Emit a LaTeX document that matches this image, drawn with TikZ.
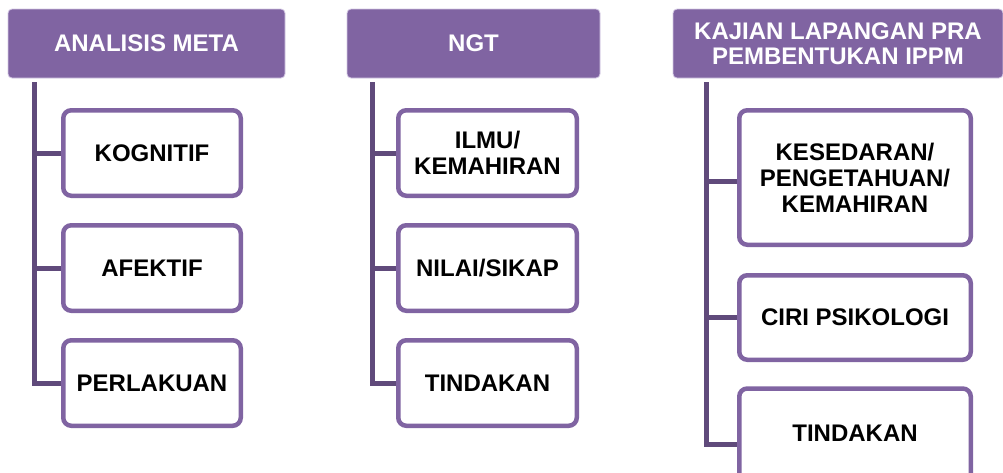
\documentclass[tikz,border=0pt]{standalone}
\usepackage{fontspec}
\setmainfont{Liberation Sans}
\definecolor{hdrfill}{HTML}{8064A2}
\definecolor{hdredge}{HTML}{D4C9E4}
\definecolor{boxedge}{HTML}{8064A2}
\definecolor{trunkcol}{HTML}{604A7B}
\tikzset{
  hdr/.style={fill=hdrfill, draw=hdredge, line width=0.8, rounded corners=4,
    inner sep=0, align=center, text=white,
    font=\fontsize{24}{25}\selectfont\bfseries},
  item/.style={draw=boxedge, fill=white, line width=4.5, rounded corners=8,
    inner sep=0, align=center, text=black,
    font=\fontsize{24}{26}\selectfont\bfseries},
  trunk/.style={draw=trunkcol, line width=5}
}
\begin{document}
\begin{tikzpicture}[x=1pt, y=-1pt]
\useasboundingbox (0,0) rectangle (1003,472);

% first column
\node[hdr, minimum width=277, minimum height=69] (ha) at (146.5,43.5) {ANALISIS META};
\node[item, minimum width=177.5, minimum height=85.5] (a1) at (152,153) {KOGNITIF};
\node[item, minimum width=177.5, minimum height=85.5] (a2) at (152,268) {AFEKTIF};
\node[item, minimum width=177.5, minimum height=85.5] (a3) at (152,383) {PERLAKUAN};
\coordinate (a0) at (34,82);
\draw[trunk] (a0) |- (a3.west);
\draw[trunk] (a0 |- a1.west) -- (a1.west);
\draw[trunk] (a0 |- a2.west) -- (a2.west);

% second column
\node[hdr, minimum width=253, minimum height=69] (hb) at (473.5,43.5) {NGT};
\node[item, minimum width=178.5, minimum height=85.5] (b1) at (487.5,153) {ILMU/\\KEMAHIRAN};
\node[item, minimum width=178.5, minimum height=85.5] (b2) at (487.5,268) {NILAI/SIKAP};
\node[item, minimum width=178.5, minimum height=85.5] (b3) at (487.5,383) {TINDAKAN};
\coordinate (b0) at (372,82);
\draw[trunk] (b0) |- (b3.west);
\draw[trunk] (b0 |- b1.west) -- (b1.west);
\draw[trunk] (b0 |- b2.west) -- (b2.west);

% third column (the last box runs past the lower edge of the page)
\node[hdr, minimum width=330, minimum height=69] (hc) at (838,43.5) {KAJIAN LAPANGAN PRA\\PEMBENTUKAN IPPM};
\node[item, minimum width=231.5, minimum height=134.5] (c1) at (855,177.5) {KESEDARAN/\\PENGETAHUAN/\\KEMAHIRAN};
\node[item, minimum width=231.5, minimum height=84.5] (c2) at (855,317.5) {CIRI PSIKOLOGI};
\node[item, minimum width=231.5, minimum height=100, text depth=0] (c3) at (855,438.5) {\raisebox{0pt}[0pt][0pt]{\strut}};
\node[font=\fontsize{24}{26}\selectfont\bfseries] (c3t) at (855,433) {TINDAKAN};
\coordinate (c0) at (706,82);
\draw[trunk] (c0) |- ([yshift=-5.5]c3.west);
\draw[trunk] (c0 |- c1.west) ++(0,4) -- ([yshift=-4]c1.west);
\draw[trunk] (c0 |- c2.west) -- (c2.west);
\end{tikzpicture}
\end{document}
